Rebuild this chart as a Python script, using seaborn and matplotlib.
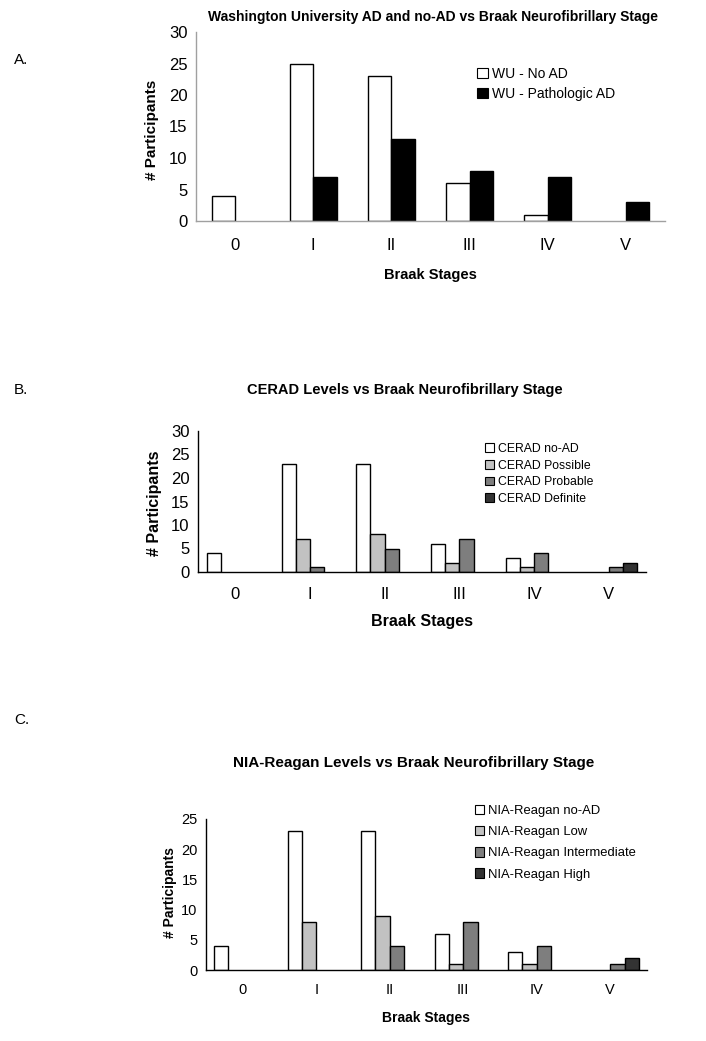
import pandas as pd
import numpy as np
import seaborn as sns
import matplotlib.pyplot as plt

stages = ['0', 'I', 'II', 'III', 'IV', 'V']

wu_labels = ['WU - No AD', 'WU - Pathologic AD']
wu_no_ad = [4, 25, 23, 6, 1, 0]
wu_path_ad = [0, 7, 13, 8, 7, 3]

cerad_labels = ['CERAD no-AD', 'CERAD Possible', 'CERAD Probable', 'CERAD Definite']
cerad_no_ad = [4, 23, 23, 6, 3, 0]
cerad_possible = [0, 7, 8, 2, 1, 0]
cerad_probable = [0, 1, 5, 7, 4, 1]
cerad_definite = [0, 0, 0, 0, 0, 2]

nia_labels = ['NIA-Reagan no-AD', 'NIA-Reagan Low', 'NIA-Reagan Intermediate', 'NIA-Reagan High']
nia_no_ad = [4, 23, 23, 6, 3, 0]
nia_low = [0, 8, 9, 1, 1, 0]
nia_intermediate = [0, 0, 4, 8, 4, 1]
nia_high = [0, 0, 0, 0, 0, 2]


def long_form(labels, series):
    rows = []
    for lab, vals in zip(labels, series):
        for st, v in zip(stages, vals):
            rows.append({'stage': st, 'group': lab, 'n': v})
    return pd.DataFrame(rows)


def draw_panel(ax, df, labels, colors, width, ymax, axis_color, tick_fs, pad_x,
               leg_anchor, leg_fs, leg_space):
    sns.barplot(data=df, x='stage', y='n', hue='group', order=stages,
                hue_order=labels, palette=colors, width=width,
                edgecolor='black', linewidth=1, saturation=1, ax=ax)
    # zero counts are not drawn
    for p in ax.patches:
        if p.get_height() == 0:
            p.set_visible(False)
    sns.move_legend(ax, 'upper left', bbox_to_anchor=leg_anchor, frameon=False,
                    title=None, fontsize=leg_fs, handlelength=0.75,
                    handleheight=0.75, handletextpad=0.3, labelspacing=leg_space,
                    borderaxespad=0, borderpad=0)
    for h in ax.get_legend().legend_handles:
        h.set_edgecolor('black')
        h.set_linewidth(0.8)
    ax.set_xlim(-0.5, 5.5)
    ax.set_ylim(0, ymax)
    ax.set_yticks(range(0, ymax + 1, 5))
    sns.despine(ax=ax)
    for s in ['left', 'bottom']:
        ax.spines[s].set_color(axis_color)
        ax.spines[s].set_linewidth(1)
    ax.set_xticks(np.arange(-0.5, 6, 1), minor=True)
    ax.tick_params(axis='x', which='major', length=0, pad=pad_x, labelsize=tick_fs)
    ax.tick_params(axis='x', which='minor', length=5, color=axis_color, width=1)
    ax.tick_params(axis='y', length=4, color=axis_color, width=1, pad=2,
                   labelsize=tick_fs)


sns.set_style('white')
plt.rcParams['font.family'] = ['Liberation Sans', 'DejaVu Sans']
plt.rcParams['text.color'] = 'black'
plt.rcParams['axes.labelcolor'] = 'black'
plt.rcParams['xtick.color'] = 'black'
plt.rcParams['ytick.color'] = 'black'

fig = plt.figure(figsize=(7.06, 10.41), dpi=100)
W, H = 706, 1041


def px_axes(x0, x1, ytop, ybot):
    return fig.add_axes([x0 / W, 1 - ybot / H, (x1 - x0) / W, (ybot - ytop) / H])


# Panel A
axA = px_axes(196, 665, 32, 221)
draw_panel(axA, long_form(wu_labels, [wu_no_ad, wu_path_ad]), wu_labels,
           ['white', 'black'], 0.6, 30, '#a0a0a0', 12, 12,
           (0.6, 0.815), 10, 0.45)
axA.set_ylabel('# Participants', fontsize=11, fontweight='bold')
axA.yaxis.set_label_coords(-0.079, 0.48)
axA.set_xlabel('Braak Stages', fontsize=10.5, fontweight='bold')
axA.xaxis.set_label_coords(0.5, -0.25)
fig.text(433 / W, 1 - 17 / H, 'Washington University AD and no-AD vs Braak Neurofibrillary Stage',
         ha='center', va='center', fontsize=10, fontweight='bold')
fig.text(14 / W, 1 - 60 / H, 'A.', ha='left', va='center', fontsize=11)

# Panel B
axB = px_axes(198, 646, 431, 572)
draw_panel(axB, long_form(cerad_labels, [cerad_no_ad, cerad_possible, cerad_probable, cerad_definite]),
           cerad_labels, ['white', '#c2c2c2', '#7e7e7e', '#333333'], 0.76, 30, 'black', 12, 10.5,
           (0.641, 0.915), 8.8, 0.38)
axB.set_ylabel('# Participants', fontsize=11.5, fontweight='bold')
axB.yaxis.set_label_coords(-0.08, 0.49)
axB.set_xlabel('Braak Stages', fontsize=11.5, fontweight='bold')
axB.xaxis.set_label_coords(0.5, -0.3)
fig.text(405 / W, 1 - 390 / H, 'CERAD Levels vs Braak Neurofibrillary Stage',
         ha='center', va='center', fontsize=10.5, fontweight='bold')
fig.text(14 / W, 1 - 390 / H, 'B.', ha='left', va='center', fontsize=11)

# Panel C
axC = px_axes(206, 647, 819, 970)
draw_panel(axC, long_form(nia_labels, [nia_no_ad, nia_low, nia_intermediate, nia_high]),
           nia_labels, ['white', '#c2c2c2', '#7e7e7e', '#333333'], 0.78, 25, 'black', 10.5, 9.5,
           (0.609, 1.095), 9.4, 0.68)
axC.set_ylabel('# Participants', fontsize=10, fontweight='bold')
axC.yaxis.set_label_coords(-0.066, 0.51)
axC.set_xlabel('Braak Stages', fontsize=10, fontweight='bold')
axC.xaxis.set_label_coords(0.5, -0.27)
fig.text(414 / W, 1 - 763 / H, 'NIA-Reagan Levels vs Braak Neurofibrillary Stage',
         ha='center', va='center', fontsize=11, fontweight='bold')
fig.text(14 / W, 1 - 720 / H, 'C.', ha='left', va='center', fontsize=11)

fig.savefig('out.png', dpi=100)
